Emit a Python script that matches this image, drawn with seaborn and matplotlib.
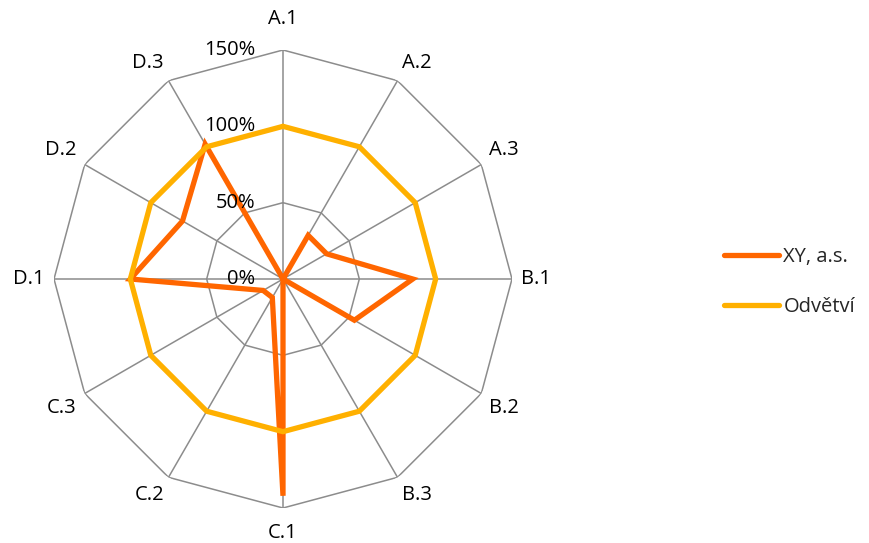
import numpy as np
import pandas as pd
import matplotlib
matplotlib.use("Agg")
import matplotlib.pyplot as plt
import matplotlib.transforms as mtransforms
from matplotlib.lines import Line2D
import seaborn as sns

categories = ["A.1", "A.2", "A.3", "B.1", "B.2", "B.3",
              "C.1", "C.2", "C.3", "D.1", "D.2", "D.3"]
xy_values = [0.0, 0.33, 0.33, 0.85, 0.54, 0.0,
             1.42, 0.14, 0.15, 1.00, 0.76, 1.02]
odvetvi_values = [1.0] * 12
series_names = ["XY, a.s.", "Odvětví"]
tick_values = [0.0, 0.5, 1.0, 1.5]
tick_labels = ["0%", "50%", "100%", "150%"]

colors = {"XY, a.s.": "#FF6600", "Odvětví": "#FFB000"}

sns.set_style("white")
plt.rcParams["font.family"] = ["Open Sans", "DejaVu Sans"]
FS = 14.5

n = len(categories)
angles = np.arange(n) * 2 * np.pi / n
theta_closed = np.append(angles, angles[0])

rows = []
for name, vals in zip(series_names, [xy_values, odvetvi_values]):
    closed = list(vals) + [vals[0]]
    for i, (t, v) in enumerate(zip(theta_closed, closed)):
        rows.append({"series": name, "theta": t, "value": v, "order": i})
df = pd.DataFrame(rows)

fig = plt.figure(figsize=(8.7, 5.43), dpi=100)
cx, cy, R = 283, 279, 229
ax = fig.add_axes([(cx - R) / 870, (543 - cy - R) / 543, 2 * R / 870, 2 * R / 543],
                  projection="polar")
ax.set_theta_zero_location("N")
ax.set_theta_direction(-1)
ax.set_ylim(0, 1.5)
ax.grid(False)
ax.spines["polar"].set_visible(False)
ax.set_xticks([])
ax.set_yticks([])
ax.set_facecolor("none")

grid_color = "#8C8C8C"
for r in tick_values[1:]:
    ax.plot(theta_closed, [r] * (n + 1), color=grid_color, lw=1.1, zorder=1)
for t in angles:
    ax.plot([t, t], [0, 1.5], color=grid_color, lw=1.1, zorder=1)

sns.lineplot(data=df, x="theta", y="value", hue="series", hue_order=series_names,
             palette=colors, sort=False, estimator=None, units="series",
             lw=3.8, ax=ax, legend=False, zorder=3)
for line in ax.lines[-2:]:
    line.set_solid_joinstyle("miter")
ax.set_xlabel("")
ax.set_ylabel("")
ax.set_ylim(0, 1.5)

# radial tick labels
off = mtransforms.offset_copy(ax.transData, fig=fig, x=-28, y=0, units="dots")
for v, lab in zip(tick_values, tick_labels):
    ax.text(0, v, lab, transform=off, ha="right", va="center", fontsize=FS, color="#000000")

# category labels
for t, lab in zip(angles, categories):
    s, c = np.sin(t), np.cos(t)
    ha = "left" if s > 0.1 else ("right" if s < -0.1 else "center")
    va = "bottom" if c > 0.1 else ("top" if c < -0.1 else "center")
    if c > 0.99:
        r = 1.64
    elif c < -0.99:
        r = 1.60
    else:
        r = 1.56
    ax.text(t, r, lab, ha=ha, va=va, fontsize=FS, color="#000000")

handles = [Line2D([0], [0], color=colors[s], lw=3.8, solid_capstyle="round") for s in series_names]
fig.legend(handles, series_names, loc="center left", bbox_to_anchor=(716 / 870, (543 - 282) / 543),
           frameon=False, fontsize=FS, handlelength=2.75, handletextpad=0.2, labelspacing=1.5,
           borderaxespad=0, borderpad=0.4)

fig.savefig("out.png", dpi=100)
